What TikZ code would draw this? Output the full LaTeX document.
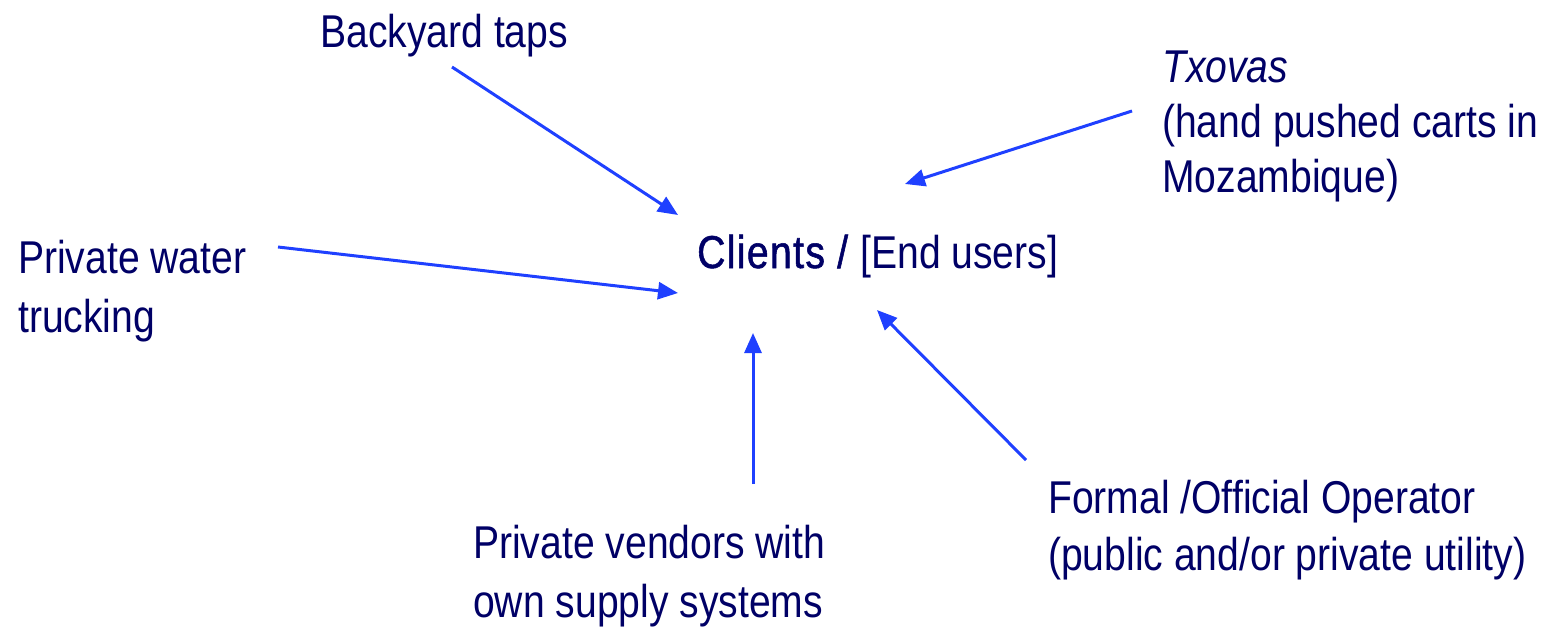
\documentclass[tikz,border=0pt]{standalone}
\usepackage{fontspec}
\setmainfont{Liberation Sans}[FakeStretch=0.85]
\newfontfamily\semibf{Liberation Sans}[FakeStretch=0.85,FakeBold=1.2,LetterSpace=3]
\usetikzlibrary{arrows.meta}
\definecolor{txtnavy}{HTML}{000066}
\definecolor{arrblue}{HTML}{1F40FF}
\begin{document}
\begin{tikzpicture}[x=1pt,y=-1pt,
  lbl/.style={inner sep=0pt, anchor=base west, align=left, text=txtnavy,
    font=\fontsize{46}{#1}\selectfont},
  lbl/.default=57,
  conn/.style={draw=arrblue, line width=3pt,
    -{Triangle[length=20pt,width=17pt]}}]
\useasboundingbox (0,0) rectangle (1542,632);
\node[lbl] (back) at (320,47) {Backyard taps};
\node[lbl=55] (txo) at (1162,192) {\textit{Txovas}\\(hand pushed carts in\\Mozambique)};
\node[lbl=59] (truck) at (18,332) {Private water\\trucking};
\node[lbl] (cli) at (697,268) {{\semibf Clients / }[End users]};
\node[lbl=57] (form) at (1048,570) {Formal /Official Operator\\(public and/or private utility)};
\node[lbl=59] (vend) at (473,617) {Private vendors with\\own supply systems};
\coordinate (a1) at (452,67);   \coordinate (b1) at (678,215);
\coordinate (a2) at (278,247);  \coordinate (b2) at (678,293);
\coordinate (a3) at (1132,111); \coordinate (b3) at (905,184);
\coordinate (a4) at (753,484);  \coordinate (b4) at (753,333);
\coordinate (a5) at (1026,460); \coordinate (b5) at (877,310);
\draw[conn] (a1) -- (b1);
\draw[conn] (a2) -- (b2);
\draw[conn] (a3) -- (b3);
\draw[conn] (a4) -- (b4);
\draw[conn] (a5) -- (b5);
\end{tikzpicture}
\end{document}
